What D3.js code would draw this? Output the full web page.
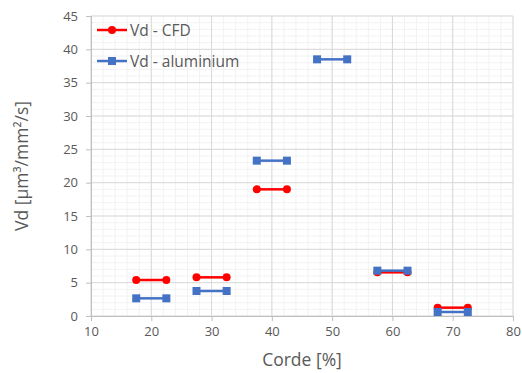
<!DOCTYPE html>
<html>
<head>
<meta charset="utf-8">
<script src="https://cdn.jsdelivr.net/npm/d3@7"></script>
<style>
  body { margin: 0; background: #fff; }
  svg text { font-family: "Open Sans", "Liberation Sans", sans-serif; fill: #595959; }
</style>
</head>
<body>
<svg id="chart" width="522" height="373"></svg>
<script>
// Segment start/end along the chord (%)
var segStart = [17.5, 27.5, 37.5, 47.5, 57.5, 67.5];
var segEnd = [22.5, 32.5, 42.5, 52.5, 62.5, 72.5];
// Vd values per segment (null = no value)
var vdCFD = [5.4, 5.8, 19.0, null, 6.55, 1.25];
var vdAlu = [2.65, 3.75, 23.3, 38.5, 6.8, 0.6];
var xTicks = [10, 20, 30, 40, 50, 60, 70, 80];
var yTicks = [0, 5, 10, 15, 20, 25, 30, 35, 40, 45];

var svg = d3.select("#chart");
var mLeft = 91, mRight = 513, mTop = 16, mBottom = 316;

var x = d3.scaleLinear().domain([10, 80]).range([mLeft, mRight]);
var y = d3.scaleLinear().domain([0, 45]).range([mBottom, mTop]);

// Minor gridlines
var grid = svg.append("g");
grid.selectAll(".mx").data(d3.range(10, 81, 2)).enter().append("line")
    .attr("x1", d => x(d)).attr("x2", d => x(d))
    .attr("y1", mTop).attr("y2", mBottom)
    .attr("stroke", "#f2f2f2").attr("stroke-width", 1);
grid.selectAll(".my").data(d3.range(0, 46, 1)).enter().append("line")
    .attr("x1", mLeft).attr("x2", mRight)
    .attr("y1", d => y(d)).attr("y2", d => y(d))
    .attr("stroke", "#f2f2f2").attr("stroke-width", 1);

// Major gridlines
grid.selectAll(".gx").data(xTicks).enter().append("line")
    .attr("x1", d => x(d)).attr("x2", d => x(d))
    .attr("y1", mTop).attr("y2", mBottom)
    .attr("stroke", "#d9d9d9").attr("stroke-width", 1);
grid.selectAll(".gy").data(yTicks).enter().append("line")
    .attr("x1", mLeft).attr("x2", mRight)
    .attr("y1", d => y(d)).attr("y2", d => y(d))
    .attr("stroke", "#d9d9d9").attr("stroke-width", 1);

// Axes
var xAxis = svg.append("g")
    .attr("transform", "translate(0," + mBottom + ")")
    .call(d3.axisBottom(x).tickValues(xTicks).tickSize(5).tickPadding(6));
var yAxis = svg.append("g")
    .attr("transform", "translate(" + mLeft + ",0)")
    .call(d3.axisLeft(y).tickValues(yTicks).tickSize(5).tickPadding(8));
[xAxis, yAxis].forEach(a => {
    a.select(".domain").attr("stroke", "#bfbfbf");
    a.selectAll(".tick line").attr("stroke", "#bfbfbf");
    a.selectAll(".tick text").attr("font-size", 13).attr("fill", "#595959")
        .style("font-family", "'Open Sans', 'Liberation Sans', sans-serif");
});

// Axis titles
svg.append("text")
    .attr("x", (mLeft + mRight) / 2).attr("y", 366)
    .attr("text-anchor", "middle").attr("font-size", 17.5)
    .text("Corde [%]");
svg.append("text")
    .attr("transform", "translate(28," + ((mTop + mBottom) / 2) + ") rotate(-90)")
    .attr("text-anchor", "middle").attr("font-size", 17.5)
    .text("Vd [µm³/mm²/s]");

// Draw a series as separate segments
function drawSeries(values, color, marker) {
    var g = svg.append("g");
    values.forEach((v, i) => {
        if (v == null) return;
        g.append("line")
            .attr("x1", x(segStart[i])).attr("x2", x(segEnd[i]))
            .attr("y1", y(v)).attr("y2", y(v))
            .attr("stroke", color).attr("stroke-width", 2.5);
        [segStart[i], segEnd[i]].forEach(px => {
            if (marker == "circle") {
                g.append("circle")
                    .attr("cx", x(px)).attr("cy", y(v)).attr("r", 4)
                    .attr("fill", color);
            } else {
                g.append("rect")
                    .attr("x", x(px) - 4).attr("y", y(v) - 4)
                    .attr("width", 8).attr("height", 8)
                    .attr("fill", color);
            }
        });
    });
}

drawSeries(vdCFD, "#ff0000", "circle");
drawSeries(vdAlu, "#4472c4", "square");

// Legend
var legend = [["Vd - CFD", "#ff0000", "circle"], ["Vd - aluminium", "#4472c4", "square"]];
legend.forEach((d, i) => {
    var ly = 30 + i * 31;
    svg.append("line")
        .attr("x1", 97).attr("x2", 127).attr("y1", ly).attr("y2", ly)
        .attr("stroke", d[1]).attr("stroke-width", 2.5);
    if (d[2] == "circle") {
        svg.append("circle").attr("cx", 112).attr("cy", ly).attr("r", 4).attr("fill", d[1]);
    } else {
        svg.append("rect").attr("x", 108).attr("y", ly - 4).attr("width", 8).attr("height", 8).attr("fill", d[1]);
    }
    svg.append("text")
        .attr("x", 130).attr("y", ly + 5.5)
        .attr("font-size", 15.5)
        .text(d[0]);
});
</script>
</body>
</html>
